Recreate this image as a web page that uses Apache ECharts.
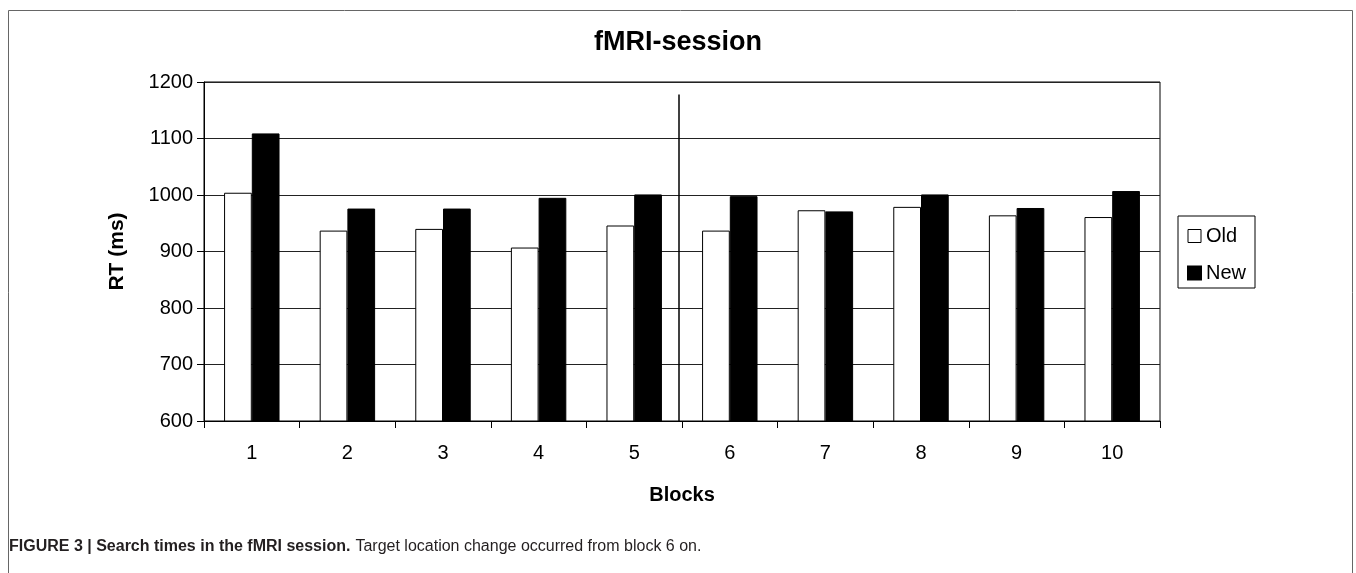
<!DOCTYPE html>
<html>
<head>
<meta charset="utf-8">
<script src="https://cdn.jsdelivr.net/npm/echarts@6/dist/echarts.min.js"></script>
<style>
  html, body { margin: 0; padding: 0; background: #fff; }
  #chart { width: 1356px; height: 573px; }
</style>
</head>
<body>
<div id="chart"></div>
<script>
// Mean search times (RT, ms) per block of the fMRI session
const blocks = ['1', '2', '3', '4', '5', '6', '7', '8', '9', '10'];
const oldValues = [1004, 937, 940, 907, 946, 937, 973, 979, 964, 961];
const newValues = [1109, 976, 976, 995, 1001, 998, 971, 1001, 977, 1007];
const yTicks = { min: 600, max: 1200, step: 100 };
// Vertical divider marking where the target location changed (before block 6)
const changeMarker = { block: 4.97, from: 600, to: 1178 };

const FONT = '"Liberation Sans", Arial, Helvetica, sans-serif';
const CAPTION_FONT = '"Liberation Sans Narrow", "Liberation Sans", Arial, sans-serif';

const chart = echarts.init(document.getElementById('chart'), null, { renderer: 'canvas' });

chart.setOption({
  animation: false,
  backgroundColor: '#fff',
  title: [
    {
      text: 'fMRI-session',
      left: 'center',
      top: 24,
      textStyle: { fontFamily: FONT, fontSize: 27, fontWeight: 'bold', color: '#000' }
    },
    {
      text: '{b|FIGURE 3 | Search times in the fMRI session.} {r|Target location change occurred from block 6 on.}',
      left: 9,
      top: 538,
      padding: 0,
      textStyle: {
        fontWeight: 'normal',
        rich: {
          b: { fontFamily: CAPTION_FONT, fontSize: 16, fontWeight: 'bold', color: '#231f20' },
          r: { fontFamily: CAPTION_FONT, fontSize: 16, fontWeight: 'normal', color: '#231f20' }
        }
      }
    }
  ],
  graphic: [
    {
      type: 'rect',
      shape: { x: 8.5, y: 10.5, width: 1344, height: 600 },
      style: { fill: 'none', stroke: '#666', lineWidth: 1 },
      silent: true,
      z: -1
    }
  ],
  legend: {
    orient: 'vertical',
    left: 1178,
    top: 216,
    padding: [10, 9, 5, 9],
    itemGap: 17,
    itemWidth: 13,
    itemHeight: 13,
    borderColor: '#000',
    borderWidth: 1,
    textStyle: { fontFamily: FONT, fontSize: 20, color: '#000' },
    data: [
      { name: 'Old', icon: 'rect', itemStyle: { color: '#fff', borderColor: '#000', borderWidth: 1 } },
      { name: 'New', icon: 'rect', itemStyle: { color: '#000' } }
    ]
  },
  grid: {
    left: 204,
    right: 196,
    top: 82,
    bottom: 152,
    show: true,
    borderColor: '#000',
    borderWidth: 1,
    backgroundColor: 'transparent'
  },
  xAxis: [
    {
      type: 'category',
      data: blocks,
      name: 'Blocks',
      nameLocation: 'middle',
      nameGap: 64,
      nameTextStyle: { fontFamily: FONT, fontSize: 20, fontWeight: 'bold', color: '#000' },
      axisLine: { lineStyle: { color: '#000', width: 1 } },
      axisTick: { show: true, length: 7, alignWithLabel: false, lineStyle: { color: '#000' } },
      axisLabel: { fontFamily: FONT, fontSize: 20, color: '#000', margin: 22 },
      splitLine: { show: false }
    },
    {
      type: 'value',
      min: 0,
      max: blocks.length,
      show: false
    }
  ],
  yAxis: {
    type: 'value',
    min: yTicks.min,
    max: yTicks.max,
    interval: yTicks.step,
    name: 'RT (ms)',
    nameLocation: 'middle',
    nameGap: 76,
    nameTextStyle: { fontFamily: FONT, fontSize: 21, fontWeight: 'bold', color: '#000' },
    axisLine: { show: true, lineStyle: { color: '#000', width: 1 } },
    axisTick: { show: true, length: 7, lineStyle: { color: '#000' } },
    axisLabel: {
      fontFamily: FONT, fontSize: 20, color: '#000', margin: 11,
      formatter: (v) => String(v)
    },
    splitLine: { show: true, lineStyle: { color: '#222', width: 1 } }
  },
  series: [
    {
      name: 'Old',
      type: 'bar',
      data: oldValues,
      barGap: '0%',
      barCategoryGap: '42%',
      itemStyle: { color: '#fff', borderColor: '#000', borderWidth: 1 }
    },
    {
      name: 'New',
      type: 'bar',
      data: newValues,
      barGap: '0%',
      barCategoryGap: '42%',
      itemStyle: { color: '#000', borderColor: '#000', borderWidth: 1 }
    },
    {
      name: 'divider',
      type: 'line',
      xAxisIndex: 1,
      data: [],
      silent: true,
      markLine: {
        symbol: 'none',
        silent: true,
        label: { show: false },
        lineStyle: { color: '#000', width: 1.5, type: 'solid' },
        data: [[
          { coord: [changeMarker.block, changeMarker.from] },
          { coord: [changeMarker.block, changeMarker.to] }
        ]]
      }
    }
  ]
});
</script>
</body>
</html>
